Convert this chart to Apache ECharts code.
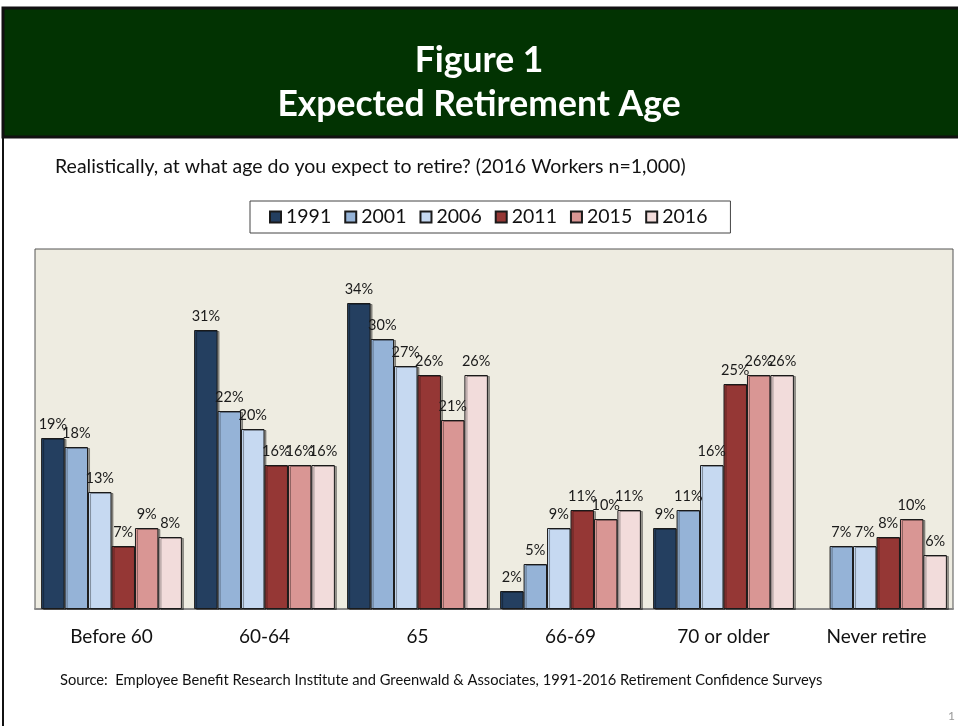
<!DOCTYPE html>
<html>
<head>
    <meta charset="utf-8">
    <title>Expected Retirement Age</title>
    <script src="https://cdn.jsdelivr.net/npm/echarts@6/dist/echarts.min.js"></script>
    <style>
        body { margin: 0; background: #fff; }
        #main { width: 958px; height: 726px; }
    </style>
</head>
<body>
    <div id="main"></div>
    <script>
        // 数据
        var categories = ['Before 60', '60-64', '65', '66-69', '70 or older', 'Never retire'];
        var years = ['1991', '2001', '2006', '2011', '2015', '2016'];
        var v1991 = [19, 31, 34, 2, 9, null];
        var v2001 = [18, 22, 30, 5, 11, 7];
        var v2006 = [13, 20, 27, 9, 16, 7];
        var v2011 = [7, 16, 26, 11, 25, 8];
        var v2015 = [9, 16, 21, 10, 26, 10];
        var v2016 = [8, 16, 26, 11, 26, 6];
        var values = [v1991, v2001, v2006, v2011, v2015, v2016];
        var colors = ['#243F60', '#95B3D7', '#C6D9F1', '#953735', '#D99694', '#F2DCDB'];

        var font = 'Lato, "Open Sans", sans-serif';
        var chart = echarts.init(document.getElementById('main'));

        var series = years.map(function (y, i) {
            return {
                name: y,
                type: 'bar',
                data: values[i],
                barGap: '0%',
                barCategoryGap: '8%',
                itemStyle: {
                    color: colors[i],
                    borderColor: '#1a1a1a',
                    borderWidth: 1,
                    shadowColor: 'rgba(0,0,0,0.35)',
                    shadowOffsetX: 2,
                    shadowOffsetY: 1
                },
                label: {
                    show: true,
                    position: 'top',
                    distance: 6,
                    formatter: '{c}%',
                    color: '#1a1a1a',
                    fontSize: 14.5,
                    fontFamily: font
                }
            };
        });

        chart.setOption({
            animation: false,
            backgroundColor: '#fff',
            title: [{
                text: 'Figure 1\nExpected Retirement Age',
                left: 'center',
                top: 34,
                textStyle: { color: '#fff', fontSize: 35.5, fontWeight: 'bold', fontFamily: font, lineHeight: 44 }
            }, {
                text: 'Realistically, at what age do you expect to retire? (2016 Workers n=1,000)',
                left: 50,
                top: 152,
                textStyle: { color: '#111', fontSize: 19.5, fontWeight: 'normal', fontFamily: font }
            }],
            legend: {
                data: years,
                top: 201,
                left: 250,
                itemWidth: 11,
                itemHeight: 11,
                itemGap: 13,
                icon: 'rect',
                padding: [6, 23, 6, 19],
                borderColor: '#444',
                borderWidth: 1,
                textStyle: { fontSize: 19.5, color: '#111', fontFamily: font }
            },
            grid: {
                left: 35, top: 249, width: 918, height: 360,
                show: true,
                backgroundColor: '#EEECE1',
                borderColor: '#555',
                borderWidth: 1
            },
            xAxis: {
                type: 'category',
                data: categories,
                axisTick: { show: false },
                axisLine: { lineStyle: { color: '#888', width: 2 } },
                axisLabel: { margin: 18, fontSize: 19, color: '#111', fontFamily: font }
            },
            yAxis: {
                type: 'value',
                min: 0, max: 40,
                show: false,
                splitLine: { show: false }
            },
            graphic: [
                { type: 'rect', shape: { x: 3, y: 8, width: 960, height: 129 }, style: { fill: '#023302', stroke: '#111', lineWidth: 3 }, z: -1 },
                { type: 'line', shape: { x1: 3, y1: 137, x2: 3, y2: 726 }, style: { stroke: '#111', lineWidth: 2 } },
                {
                    type: 'text', left: 60, top: 673,
                    style: { text: 'Source:  Employee Benefit Research Institute and Greenwald & Associates, 1991-2016 Retirement Confidence Surveys', fill: '#111', fontSize: 14.7, fontFamily: font }
                },
                { type: 'text', left: 948, top: 710, style: { text: '1', fill: '#999', fontSize: 12, fontFamily: font } }
            ],
            series: series
        });
    </script>
</body>
</html>
